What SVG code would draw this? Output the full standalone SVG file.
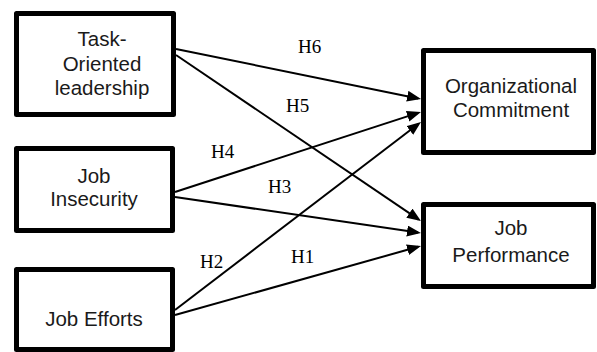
<svg xmlns="http://www.w3.org/2000/svg" width="597" height="352" viewBox="0 0 597 352">
<style>
.box{fill:#fff;stroke:#000;stroke-width:5;stroke-linejoin:round}
.t{font-family:"Liberation Sans",Arial,sans-serif;font-size:20.5px;fill:#1a1a1a;text-anchor:middle}
.h{font-family:"Liberation Serif","Times New Roman",serif;font-size:19px;fill:#000}
.c{stroke:#000;stroke-width:2;fill:none;marker-end:url(#ah)}
</style>
<defs>
<marker id="ah" markerUnits="userSpaceOnUse" markerWidth="14" markerHeight="12" refX="11" refY="5.5" orient="auto">
<path d="M0,0 L14,5.5 L0,11 z" fill="#000"/>
</marker>
</defs>
<rect width="597" height="352" fill="#fff"/>
<g id="connectors">
<line class="c" x1="176" y1="49" x2="418.1" y2="98.4"/>
<line class="c" x1="176" y1="55" x2="418.5" y2="219.3"/>
<line class="c" x1="175" y1="192" x2="418.1" y2="112.9"/>
<line class="c" x1="175" y1="197" x2="418" y2="232.6"/>
<line class="c" x1="175" y1="310" x2="418.6" y2="123.8"/>
<line class="c" x1="175" y1="315" x2="418.1" y2="246.8"/>
</g>
<g id="labels">
<text class="h" x="298" y="53">H6</text>
<text class="h" x="286" y="112">H5</text>
<text class="h" x="211" y="158">H4</text>
<text class="h" x="268" y="193">H3</text>
<text class="h" x="200" y="268">H2</text>
<text class="h" x="291" y="263">H1</text>
</g>
<g id="task">
<rect class="box" x="16.5" y="13.5" width="157" height="101"/>
<text class="t" x="102" y="46">Task-</text>
<text class="t" x="102" y="71">Oriented</text>
<text class="t" x="102" y="95">leadership</text>
</g>
<g id="insecurity">
<rect class="box" x="16.5" y="148.5" width="156" height="82"/>
<text class="t" x="94" y="183">Job</text>
<text class="t" x="94" y="206">Insecurity</text>
</g>
<g id="efforts">
<rect class="box" x="16.5" y="269.5" width="156" height="80"/>
<text class="t" x="94" y="326">Job Efforts</text>
</g>
<g id="commitment">
<rect class="box" x="423.5" y="50.5" width="170" height="102"/>
<text class="t" x="511" y="93">Organizational</text>
<text class="t" x="511" y="117">Commitment</text>
</g>
<g id="performance">
<rect class="box" x="423.5" y="204.5" width="170" height="82"/>
<text class="t" x="511" y="235">Job</text>
<text class="t" x="511" y="262">Performance</text>
</g>
</svg>
